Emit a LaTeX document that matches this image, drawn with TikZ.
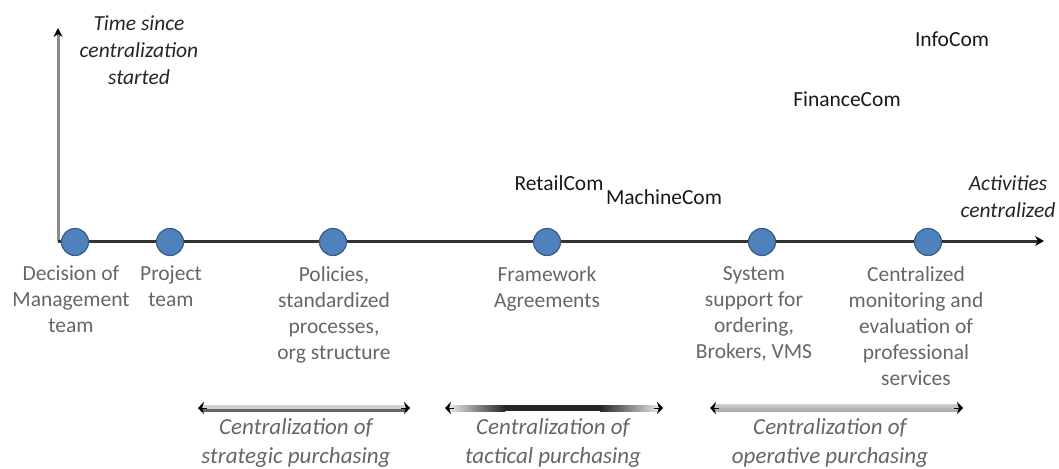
\documentclass[tikz,border=0pt]{standalone}
\usepackage{fontspec}
\setmainfont{Carlito}
\usetikzlibrary{arrows.meta}
\definecolor{dotfill}{HTML}{4F81BD}
\definecolor{dotline}{HTML}{385D8A}
\definecolor{axisdark}{HTML}{333333}
\definecolor{axisgray}{HTML}{8C8C8C}
\definecolor{labgray}{HTML}{666666}
\begin{document}
\begin{tikzpicture}[x=1pt,y=-1pt,
  dot/.style={circle,fill=dotfill,draw=dotline,line width=1.2pt,minimum size=27pt,inner sep=0pt},
  lab/.style={anchor=north,align=center,text=labgray,font=\fontsize{21.5}{26}\selectfont,inner sep=0pt},
  comp/.style={text=black!90,font=\fontsize{21.5}{26}\selectfont,inner sep=0pt},
  axlab/.style={align=center,text=black!85,font=\fontsize{21.5}{27}\selectfont\itshape,inner sep=0pt},
  phasecap/.style={anchor=north,align=center,text=labgray,font=\fontsize{23}{29}\selectfont\itshape,inner sep=0pt},
  tipend/.style={black,line width=1pt,-{Stealth[black,length=6pt,width=12pt]}}
]
\useasboundingbox (0,0) rectangle (1059,468);

% axes
\coordinate (O) at (58,241);
\coordinate (Y) at (58,28);
\coordinate (X) at (1044,241);
\draw[axisgray,line width=3pt,-{Stealth[black,length=9pt,width=9pt]}] (O) -- (Y);
\draw[axisdark,line width=3pt,-{Stealth[black,length=9pt,width=10pt]}] (O) -- (X);

% axis labels
\node[axlab] (ty) at (139,50) {Time since\\centralization\\started};
\node[axlab] (tx) at (1008,197) {Activities\\centralized};

% milestones
\node[dot] (d1) at (75,242) {};
\node[dot] (d2) at (170,242) {};
\node[dot] (d3) at (333,242) {};
\node[dot] (d4) at (547,242) {};
\node[dot] (d5) at (762,242) {};
\node[dot] (d6) at (928,242) {};

\node[lab] (l1) at (71,266) {Decision of\\Management\\team};
\node[lab] (l2) at (171,266) {Project\\team};
\node[lab] (l3) at (334,266) {Policies,\\standardized\\processes,\\org structure};
\node[lab] (l4) at (547,266) {Framework\\Agreements};
\node[lab] (l5) at (754,266) {System\\support for\\ordering,\\Brokers, VMS};
\node[lab] (l6) at (916,266) {Centralized\\monitoring and\\evaluation of\\professional\\services};

% companies
\node[comp] (c1) at (559,183) {RetailCom};
\node[comp] (c2) at (664,197) {MachineCom};
\node[comp] (c3) at (847,99) {FinanceCom};
\node[comp] (c4) at (952,39) {InfoCom};

% phase arrows
\coordinate (a1l) at (198,408); \coordinate (a1r) at (410,408);
\coordinate (a2l) at (445,408); \coordinate (a2r) at (663,408);
\coordinate (a3l) at (710,408); \coordinate (a3r) at (963,408);

% strategic: light bar with dark lower edge
\fill[gray!35] (201,404.5) rectangle (407,409);
\fill[gray!80!black] (201,409) rectangle (407,411.5);
% tactical: dark core fading to light ends
\shade[left color=gray!15,right color=black!85] (448,405) rectangle (505,411);
\fill[black!85] (505,405) rectangle (600,411);
\shade[left color=black!85,right color=gray!15] (600,405) rectangle (660,411);
% operative: medium grey bar
\shade[top color=gray!40,bottom color=gray!70] (713,404.5) rectangle (960,411.5);

\draw[tipend] ([xshift=9pt]a1l) -- (a1l);
\draw[tipend] ([xshift=-9pt]a1r) -- (a1r);
\draw[tipend] ([xshift=9pt]a2l) -- (a2l);
\draw[tipend] ([xshift=-9pt]a2r) -- (a2r);
\draw[tipend] ([xshift=9pt]a3l) -- (a3l);
\draw[tipend] ([xshift=-9pt]a3r) -- (a3r);

\node[phasecap] (p1) at (296,418) {Centralization of\\strategic purchasing};
\node[phasecap] (p2) at (553,418) {Centralization of\\tactical purchasing};
\node[phasecap] (p3) at (830,418) {Centralization of\\operative purchasing};
\end{tikzpicture}
\end{document}
